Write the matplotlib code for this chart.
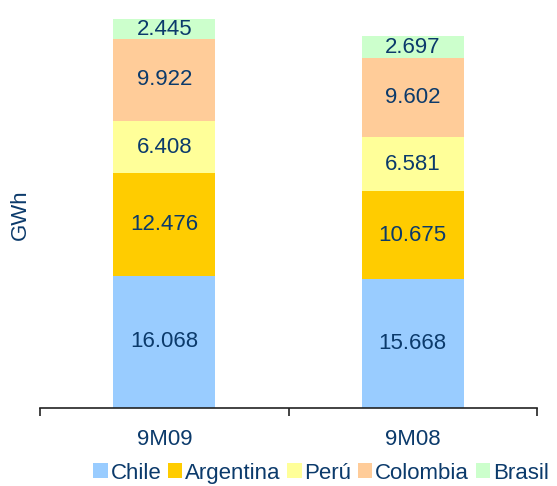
import numpy as np
import matplotlib.pyplot as plt
from matplotlib.patches import Patch

plt.rcParams['font.family'] = ['Liberation Sans', 'DejaVu Sans']

periods = ["9M09", "9M08"]
countries = ["Chile", "Argentina", "Perú", "Colombia", "Brasil"]
chile = [16068, 15668]
argentina = [12476, 10675]
peru = [6408, 6581]
colombia = [9922, 9602]
brasil = [2445, 2697]
labels = [["16.068", "15.668"], ["12.476", "10.675"], ["6.408", "6.581"],
          ["9.922", "9.602"], ["2.445", "2.697"]]

series = [chile, argentina, peru, colombia, brasil]
colors = ["#99CCFF", "#FFCC00", "#FFFF99", "#FFCC99", "#CCFFCC"]
navy = "#0B3A6B"

fig = plt.figure(figsize=(5.57, 4.86), dpi=100)
ax = fig.add_axes([40/557, 1-408/486, 497/557, 389/486])

x = np.arange(len(periods))
bottom = np.zeros(len(periods))
for vals, col, labs in zip(series, colors, labels):
    vals = np.array(vals)
    ax.bar(x, vals, 0.41, bottom=bottom, color=col, edgecolor="none")
    for xi, b, v, t in zip(x, bottom, vals, labs):
        ax.text(xi, b + v/2, t, ha="center", va="center", fontsize=16, color=navy)
    bottom = bottom + vals

ax.set_xlim(-0.5, 1.5)
ax.set_ylim(0, bottom.max())
for s in ["left", "right", "top"]:
    ax.spines[s].set_visible(False)
ax.spines["bottom"].set_linewidth(1.2)
ax.spines["bottom"].set_color("#222222")
ax.set_yticks([])
ax.set_xticks(x)
ax.set_xticklabels(periods, fontsize=16, color=navy)
ax.tick_params(axis="x", which="major", length=0, pad=15)
ax.set_xticks([-0.5, 0.5, 1.5], minor=True)
ax.tick_params(axis="x", which="minor", length=6, width=1.2, color="#222222", direction="out")

fig.text(20/557, 1-215/486, "GWh", rotation=90, ha="center", va="center", fontsize=16, color=navy)

handles = [Patch(facecolor=c, edgecolor="none") for c in colors]
leg = fig.legend(handles, countries, loc="center", bbox_to_anchor=(321/557, 1-473/486), ncol=5,
                 frameon=False, fontsize=16, handlelength=0.65, handleheight=0.65,
                 handletextpad=0.12, columnspacing=0.3, borderaxespad=0)
for t in leg.get_texts():
    t.set_color(navy)

fig.savefig("out.png", dpi=100)
